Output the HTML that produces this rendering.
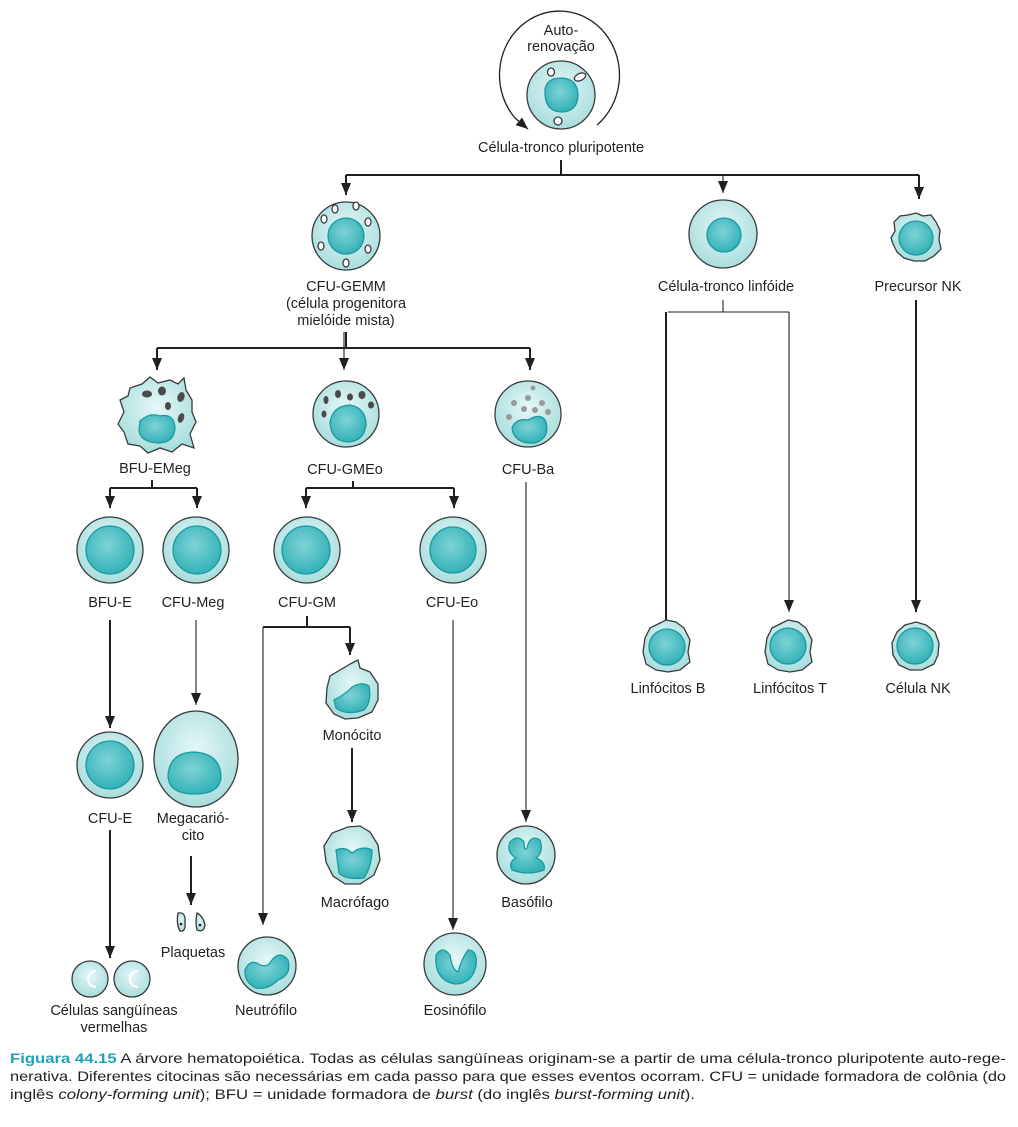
<!DOCTYPE html>
<html><head><meta charset="utf-8"><style>
html,body{margin:0;padding:0;background:#fff;}
svg{display:block;}
text{font-family:"Liberation Sans",sans-serif;font-size:14.5px;fill:#231f20;}
.c{text-anchor:middle;}
.cap{font-size:14px;}
</style></head><body>
<svg width="1018" height="1127" viewBox="0 0 1018 1127" xmlns="http://www.w3.org/2000/svg">
<defs>
<radialGradient id="cy" cx="50%" cy="40%" r="60%"><stop offset="0" stop-color="#e6f7f7"/><stop offset="1" stop-color="#a8dddd"/></radialGradient>
<radialGradient id="nu" cx="45%" cy="40%" r="60%"><stop offset="0" stop-color="#7fd3d6"/><stop offset="1" stop-color="#33b2b8"/></radialGradient>
<marker id="ah" markerWidth="12" markerHeight="10" refX="12" refY="5" orient="auto" markerUnits="userSpaceOnUse" viewBox="0 0 12 10"><path d="M0,0 L12,5 L0,10 Z" fill="#231f20"/></marker>
</defs>
<g stroke="#231f20" fill="none">
<path d="M515,118 A60,64 0 1 1 597,125" stroke-width="1.3"/>
<path d="M515,118 L528,129" stroke-width="1.3" marker-end="url(#ah)"/>
<g stroke-width="2">
<path d="M561,160 V175 M346,175 H919"/>
<path d="M346,175 V195" marker-end="url(#ah)"/>
<path d="M919,175 V199" marker-end="url(#ah)"/>
<path d="M346,332 V348 M157,348 H530"/>
<path d="M157,348 V370" marker-end="url(#ah)"/>
<path d="M530,348 V370" marker-end="url(#ah)"/>
<path d="M152,480 V488 M110,488 H197"/>
<path d="M110,488 V508" marker-end="url(#ah)"/>
<path d="M197,488 V508" marker-end="url(#ah)"/>
<path d="M353,488 V481 M306,488 H454"/>
<path d="M306,488 V508" marker-end="url(#ah)"/>
<path d="M454,488 V508" marker-end="url(#ah)"/>
<path d="M110,620 V728" marker-end="url(#ah)"/>
<path d="M110,830 V958" marker-end="url(#ah)"/>
<path d="M191,856 V905" marker-end="url(#ah)"/>
<path d="M307,616 V627 M263,627 H350"/>
<path d="M350,627 V655" marker-end="url(#ah)"/>
<path d="M352,748 V822" marker-end="url(#ah)"/>
<path d="M666,312 V640" marker-end="url(#ah)"/>
<path d="M916,300 V612" marker-end="url(#ah)"/>
</g>
<g stroke-width="1.1">
<path d="M723,175 V193" marker-end="url(#ah)"/>
<path d="M344,332 V370" marker-end="url(#ah)"/>
<path d="M526,482 V822" marker-end="url(#ah)"/>
<path d="M196,620 V705" marker-end="url(#ah)"/>
<path d="M263,627 V925" marker-end="url(#ah)"/>
<path d="M453,620 V930" marker-end="url(#ah)"/>
<path d="M723,300 V312 M668,312 H789"/>
<path d="M789,312 V612" marker-end="url(#ah)"/>
</g>
</g>

<g stroke="#3a3a3a" stroke-width="1.3">
<circle cx="561" cy="95" r="34" fill="url(#cy)"/>
<path d="M545,90 Q546,78 562,78 Q578,79 578,96 Q577,112 561,112 Q544,111 545,90Z" fill="url(#nu)" stroke="#1a9aa0"/>
<ellipse cx="551" cy="72" rx="3.5" ry="4" fill="#fff"/>
<ellipse cx="580" cy="77" rx="6" ry="3.5" fill="#fff" transform="rotate(-25 580 77)"/>
<ellipse cx="558" cy="121" rx="4" ry="4" fill="#fff"/>
<circle cx="346" cy="236" r="34" fill="url(#cy)"/>
<circle cx="346" cy="236" r="18" fill="url(#nu)" stroke="#1a9aa0"/>
<g fill="#fff"><ellipse cx="335" cy="209" rx="3" ry="4"/><ellipse cx="356" cy="206" rx="3" ry="4"/><ellipse cx="368" cy="222" rx="3" ry="4"/><ellipse cx="324" cy="219" rx="3" ry="4"/><ellipse cx="321" cy="246" rx="3" ry="4"/><ellipse cx="368" cy="249" rx="3" ry="4"/><ellipse cx="346" cy="263" rx="3" ry="4"/></g>
<circle cx="723" cy="234" r="34" fill="url(#cy)"/>
<circle cx="724" cy="235" r="17" fill="url(#nu)" stroke="#1a9aa0"/>
<path d="M916,213 L923,216 L931,215 L936,222 L940,230 L939,240 L941,249 L934,256 L925,261 L914,261 L904,258 L897,252 L893,244 L891,238 L895,231 L894,222 L900,216 L908,215Z" fill="url(#cy)"/>
<circle cx="916" cy="238" r="17" fill="url(#nu)" stroke="#1a9aa0"/>
<path d="M130,388 L142,384 L150,377 L158,383 L170,380 L178,384 L184,378 L186,390 L192,400 L192,412 L196,422 L190,434 L194,448 L182,444 L172,452 L160,448 L148,453 L140,446 L128,444 L124,432 L118,424 L124,412 L120,400 L128,396Z" fill="url(#cy)"/>
<path d="M140,421 Q150,412 160,416 Q174,413 175,428 Q174,443 158,443 Q140,442 139,430Z" fill="url(#nu)" stroke="#1a9aa0"/>
<g fill="#4a4a4a" stroke="none"><ellipse cx="147" cy="394" rx="5" ry="3.5"/><ellipse cx="162" cy="391" rx="4" ry="4.5"/><ellipse cx="181" cy="397" rx="3.5" ry="5" transform="rotate(20 181 397)"/><ellipse cx="168" cy="406" rx="3" ry="4"/><ellipse cx="181" cy="418" rx="3" ry="5" transform="rotate(20 181 418)"/></g>
<circle cx="346" cy="414" r="33" fill="url(#cy)"/>
<path d="M330,423 Q332,406 350,405 Q366,408 366,425 Q364,441 348,442 Q331,441 330,423Z" fill="url(#nu)" stroke="#1a9aa0"/>
<g fill="#4a4a4a" stroke="none"><ellipse cx="326" cy="400" rx="2.5" ry="4"/><ellipse cx="338" cy="394" rx="3" ry="4"/><ellipse cx="350" cy="397" rx="3" ry="3.5"/><ellipse cx="362" cy="395" rx="3.5" ry="4"/><ellipse cx="371" cy="405" rx="3" ry="3.5"/><ellipse cx="324" cy="414" rx="2.5" ry="3.5"/></g>
<circle cx="528" cy="414" r="33" fill="url(#cy)"/>
<path d="M512,428 Q516,418 528,420 Q542,412 546,422 Q550,438 535,443 Q514,444 512,428Z" fill="url(#nu)" stroke="#1a9aa0"/>
<g fill="#9a9a9a" stroke="none"><circle cx="528" cy="398" r="3"/><circle cx="514" cy="403" r="3"/><circle cx="524" cy="409" r="3"/><circle cx="535" cy="410" r="3"/><circle cx="542" cy="403" r="3"/><circle cx="548" cy="412" r="3"/><circle cx="509" cy="417" r="3"/><circle cx="533" cy="388" r="2.5"/></g>
<circle cx="110" cy="550" r="33" fill="url(#cy)"/><circle cx="110" cy="550" r="24" fill="url(#nu)" stroke="#1a9aa0"/>
<circle cx="196" cy="550" r="33" fill="url(#cy)"/><circle cx="197" cy="550" r="24" fill="url(#nu)" stroke="#1a9aa0"/>
<circle cx="307" cy="550" r="33" fill="url(#cy)"/><circle cx="306" cy="550" r="24" fill="url(#nu)" stroke="#1a9aa0"/>
<circle cx="453" cy="550" r="33" fill="url(#cy)"/><circle cx="453" cy="550" r="23" fill="url(#nu)" stroke="#1a9aa0"/>
<circle cx="110" cy="765" r="33" fill="url(#cy)"/><circle cx="110" cy="765" r="24" fill="url(#nu)" stroke="#1a9aa0"/>
<ellipse cx="196" cy="759" rx="42" ry="48" fill="url(#cy)"/>
<path d="M168,775 Q170,752 195,752 Q221,754 221,778 Q219,794 195,794 Q168,794 168,775Z" fill="url(#nu)" stroke="#1a9aa0"/>
<circle cx="90" cy="979" r="18" fill="url(#cy)"/><path d="M96,971 A8,8 0 1 0 96,987" stroke="#fff" stroke-width="2" fill="none"/>
<circle cx="132" cy="979" r="18" fill="url(#cy)"/><path d="M138,971 A8,8 0 1 0 138,987" stroke="#fff" stroke-width="2" fill="none"/>
<path d="M178,913 Q186,912 185,922 Q186,932 180,931 Q176,924 178,913Z" fill="url(#cy)"/>
<path d="M197,913 Q203,916 205,925 Q204,933 197,930 Q195,922 197,913Z" fill="url(#cy)"/>
<path d="M352,663 L358,660 L360,668 L370,672 L378,684 L378,700 L372,712 L358,718 L345,719 L334,714 L326,703 L327,688 L330,676 L340,670Z" fill="url(#cy)"/>
<path d="M334,700 Q346,694 352,687 Q362,681 369,686 Q372,702 364,710 Q346,716 336,708Z" fill="url(#nu)" stroke="#1a9aa0"/>
<path d="M348,827 L360,826 L370,832 L378,845 L380,860 L374,875 L360,884 L345,884 L333,876 L326,862 L324,846 L332,833Z" fill="url(#cy)"/>
<path d="M336,850 Q345,846 352,853 Q362,845 372,850 Q372,866 364,878 Q345,880 339,873Z" fill="url(#nu)" stroke="#1a9aa0"/>
<circle cx="267" cy="966" r="29" fill="url(#cy)"/>
<path d="M245,970 Q250,958 260,965 Q268,968 272,960 Q280,950 288,960 Q292,975 278,980 Q268,990 256,988 Q244,982 245,970Z" fill="url(#nu)" stroke="#1a9aa0"/>
<circle cx="455" cy="964" r="31" fill="url(#cy)"/>
<path d="M436,955 Q442,945 450,955 Q452,970 458,972 Q462,958 468,950 Q478,950 476,966 Q472,984 455,984 Q434,980 436,955Z" fill="url(#nu)" stroke="#1a9aa0"/>
<circle cx="526" cy="855" r="29" fill="url(#cy)"/>
<path d="M510,842 Q518,834 524,842 Q524,852 527,848 Q530,834 540,840 Q544,852 536,858 Q546,862 544,870 Q528,876 512,870 Q508,862 516,858 Q506,852 510,842Z" fill="url(#nu)" stroke="#1a9aa0"/>
<path d="M666,620 L676,622 L684,628 L690,640 L688,652 L690,662 L680,670 L668,672 L656,670 L646,664 L643,652 L645,638 L650,628 L658,624Z" fill="url(#cy)"/>
<circle cx="667" cy="647" r="18" fill="url(#nu)" stroke="#1a9aa0"/>
<path d="M788,620 L798,622 L806,628 L812,640 L810,652 L812,662 L802,670 L790,672 L778,670 L768,664 L765,652 L767,638 L772,628 L780,624Z" fill="url(#cy)"/>
<circle cx="788" cy="646" r="18" fill="url(#nu)" stroke="#1a9aa0"/>
<path d="M916,622 L926,625 L935,632 L939,643 L938,655 L934,664 L922,670 L910,670 L899,665 L893,655 L892,643 L897,632 L905,625Z" fill="url(#cy)"/>
<circle cx="915" cy="646" r="18" fill="url(#nu)" stroke="#1a9aa0"/>
</g>
<g fill="#231f20" stroke="none">
<circle cx="181" cy="924" r="1.3"/><circle cx="200" cy="925" r="1.3"/>
</g>

<g>
<text class="c" x="561" y="35">Auto-</text>
<text class="c" x="561" y="51">renovação</text>
<text class="c" x="561" y="152">Célula-tronco pluripotente</text>
<text class="c" x="346" y="291">CFU-GEMM</text>
<text class="c" x="346" y="308">(célula progenitora</text>
<text class="c" x="346" y="325">mielóide mista)</text>
<text class="c" x="726" y="291">Célula-tronco linfóide</text>
<text class="c" x="918" y="291">Precursor NK</text>
<text class="c" x="155" y="473">BFU-EMeg</text>
<text class="c" x="345" y="474">CFU-GMEo</text>
<text class="c" x="528" y="474">CFU-Ba</text>
<text class="c" x="110" y="607">BFU-E</text>
<text class="c" x="193" y="607">CFU-Meg</text>
<text class="c" x="307" y="607">CFU-GM</text>
<text class="c" x="452" y="607">CFU-Eo</text>
<text class="c" x="110" y="823">CFU-E</text>
<text class="c" x="193" y="823">Megacarió-</text>
<text class="c" x="193" y="840">cito</text>
<text class="c" x="352" y="740">Monócito</text>
<text class="c" x="355" y="907">Macrófago</text>
<text class="c" x="527" y="907">Basófilo</text>
<text class="c" x="193" y="957">Plaquetas</text>
<text class="c" x="114" y="1015">Células sangüíneas</text>
<text class="c" x="114" y="1032">vermelhas</text>
<text class="c" x="266" y="1015">Neutrófilo</text>
<text class="c" x="455" y="1015">Eosinófilo</text>
<text class="c" x="668" y="693">Linfócitos B</text>
<text class="c" x="790" y="693">Linfócitos T</text>
<text class="c" x="918" y="693">Célula NK</text>
</g>
<text class="cap" x="10" y="1063" textLength="996" lengthAdjust="spacingAndGlyphs"><tspan fill="#1ea3b5" font-weight="bold">Figuara 44.15</tspan> A árvore hematopoiética. Todas as células sangüíneas originam-se a partir de uma célula-tronco pluripotente auto-rege-</text>
<text class="cap" x="10" y="1081" textLength="996" lengthAdjust="spacingAndGlyphs">nerativa. Diferentes citocinas são necessárias em cada passo para que esses eventos ocorram. CFU = unidade formadora de colônia (do</text>
<text class="cap" x="10" y="1099" textLength="685" lengthAdjust="spacingAndGlyphs">inglês <tspan font-style="italic">colony-forming unit</tspan>); BFU = unidade formadora de <tspan font-style="italic">burst</tspan> (do inglês <tspan font-style="italic">burst-forming unit</tspan>).</text>
</svg>
</body></html>
